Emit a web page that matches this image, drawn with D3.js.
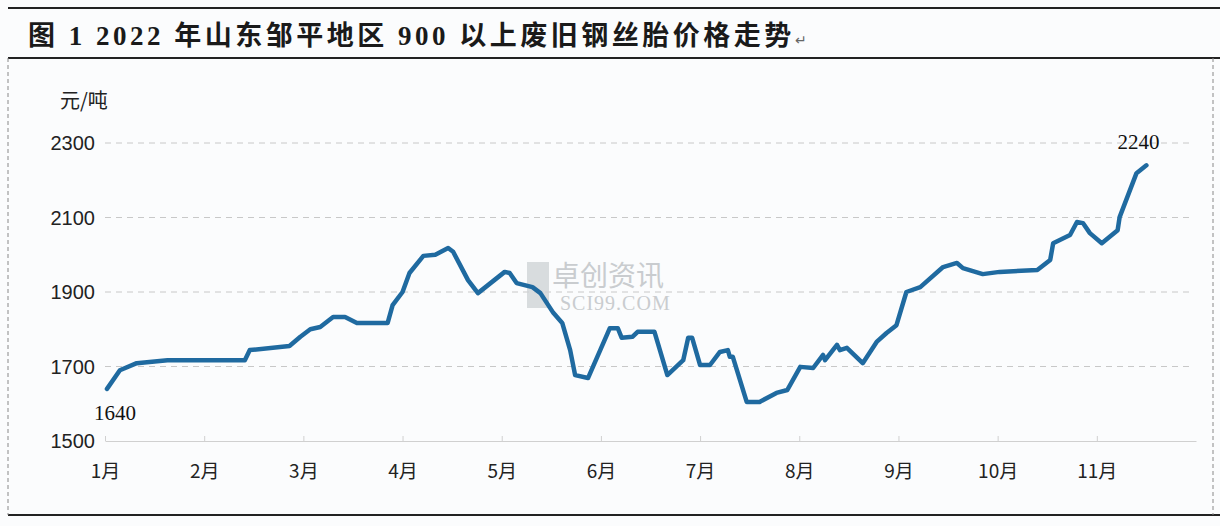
<!DOCTYPE html>
<html>
<head>
<meta charset="utf-8">
<script src="https://cdn.jsdelivr.net/npm/d3@7"></script>
<style>
  body { margin: 0; background: #fbfcfd; }
  svg { display: block; }
</style>
</head>
<body>
<svg id="chart" width="1220" height="526"></svg>
<script>
// month position (0 = 1月) and price in 元/吨
const months = [0.02,0.15,0.32,0.63,1.41,1.46,1.86,1.97,2.07,2.17,2.30,2.42,2.54,2.85,2.90,3.00,3.07,3.21,3.33,3.46,3.51,3.66,3.76,4.03,4.08,4.15,4.31,4.39,4.52,4.61,4.69,4.74,4.87,5.09,5.17,5.21,5.32,5.37,5.54,5.67,5.83,5.88,5.92,6.00,6.10,6.20,6.28,6.30,6.33,6.47,6.60,6.77,6.88,7.01,7.14,7.24,7.26,7.38,7.41,7.48,7.64,7.78,7.88,7.98,8.08,8.22,8.45,8.59,8.65,8.85,9.02,9.40,9.53,9.56,9.73,9.80,9.86,9.93,10.05,10.21,10.23,10.40,10.50];
const prices = [1640,1690,1709,1717,1717,1744,1755,1780,1800,1806,1833,1833,1817,1817,1865,1900,1951,1997,2000,2018,2008,1932,1897,1954,1951,1924,1913,1897,1844,1817,1744,1677,1669,1803,1803,1777,1780,1793,1793,1677,1717,1777,1777,1704,1704,1739,1744,1726,1726,1605,1605,1629,1637,1699,1696,1731,1717,1758,1744,1750,1709,1766,1790,1811,1900,1913,1967,1978,1964,1948,1954,1959,1986,2031,2053,2088,2085,2058,2031,2066,2101,2219,2240];
const monthLabels = ["1月","2月","3月","4月","5月","6月","7月","8月","9月","10月","11月"];
const yTicks = [1500,1700,1900,2100,2300];

const svg = d3.select("#chart");
const x = d3.scaleLinear().domain([0, 11]).range([105, 1196]);
const y = d3.scaleLinear().domain([1500, 2300]).range([441, 143]);
const cjk = "'Noto Sans CJK SC', sans-serif";

// frame
svg.append("line").attr("x1", 8).attr("x2", 1220).attr("y1", 8).attr("y2", 8).attr("stroke", "#222").attr("stroke-width", 2);
svg.append("line").attr("x1", 8).attr("x2", 1220).attr("y1", 58).attr("y2", 58).attr("stroke", "#222").attr("stroke-width", 2);
svg.append("line").attr("x1", 8).attr("x2", 1220).attr("y1", 515).attr("y2", 515).attr("stroke", "#222").attr("stroke-width", 2);
[8, 1213].forEach(xx => svg.append("line").attr("x1", xx).attr("x2", xx).attr("y1", 58).attr("y2", 515)
  .attr("stroke", "#888").attr("stroke-dasharray", "4,3"));

const title = svg.append("text").attr("x", 28).attr("y", 45)
  .attr("font-family", "'Liberation Serif', 'Noto Sans CJK SC', serif").attr("font-weight", "bold")
  .attr("font-size", 27).attr("fill", "#1a1a1a").attr("letter-spacing", 3.5)
  .text("图 1 2022 年山东邹平地区 900 以上废旧钢丝胎价格走势");
const tw = title.node().getComputedTextLength();
svg.append("text").attr("x", 28 + tw).attr("y", 45).attr("font-size", 14).attr("fill", "#666").text("↵");

// grid
svg.selectAll(".grid").data(yTicks.slice(1)).enter().append("line")
  .attr("x1", 105).attr("x2", 1190).attr("y1", d => y(d)).attr("y2", d => y(d))
  .attr("stroke", "#c8c8c8").attr("stroke-dasharray", "6,5");

// x axis
const xAxis = svg.append("g").attr("transform", `translate(0,${y(1500)})`)
  .call(d3.axisBottom(x).tickValues(d3.range(11)).tickFormat(i => monthLabels[i]).tickSize(-5).tickPadding(24).tickSizeOuter(0));
xAxis.select(".domain").attr("stroke", "#d0d0d0");
xAxis.selectAll(".tick line").attr("stroke", "#d0d0d0");
xAxis.selectAll("text").attr("font-family", cjk).attr("font-size", 19).attr("fill", "#222");

// y labels
svg.selectAll(".ylab").data(yTicks).enter().append("text")
  .attr("x", 95).attr("y", d => y(d) + 7).attr("text-anchor", "end")
  .attr("font-family", "'Liberation Sans', sans-serif").attr("font-size", 20).attr("fill", "#222")
  .text(d => d);
svg.append("text").attr("x", 60).attr("y", 108).attr("font-family", cjk).attr("font-size", 20).attr("fill", "#222").text("元/吨");

// watermark
svg.append("rect").attr("x", 527).attr("y", 262).attr("width", 22).attr("height", 46).attr("fill", "#cfd3d6").attr("opacity", 0.8);
svg.append("text").attr("x", 552).attr("y", 286).attr("font-family", cjk).attr("font-size", 28).attr("fill", "#c9cccf").text("卓创资讯");
svg.append("text").attr("x", 560).attr("y", 310).attr("font-family", "'Liberation Serif', serif").attr("font-size", 20).attr("fill", "#c9cccf").attr("letter-spacing", 1).text("SCI99.COM");

// line
const data = months.map((m, i) => ({ m, v: prices[i] }));
svg.append("path").datum(data)
  .attr("fill", "none").attr("stroke", "#1f6aa0").attr("stroke-width", 4.5)
  .attr("stroke-linejoin", "round").attr("stroke-linecap", "round")
  .attr("d", d3.line().x(d => x(d.m)).y(d => y(d.v)));

// end labels
const first = data[0], last = data[data.length - 1];
svg.append("text").attr("x", x(first.m) + 8).attr("y", y(first.v) + 31).attr("text-anchor", "middle")
  .attr("font-family", "'Liberation Serif', serif").attr("font-size", 21).attr("fill", "#111").text(first.v);
svg.append("text").attr("x", x(last.m) - 8).attr("y", y(last.v) - 16).attr("text-anchor", "middle")
  .attr("font-family", "'Liberation Serif', serif").attr("font-size", 21).attr("fill", "#111").text(last.v);
</script>
</body>
</html>
